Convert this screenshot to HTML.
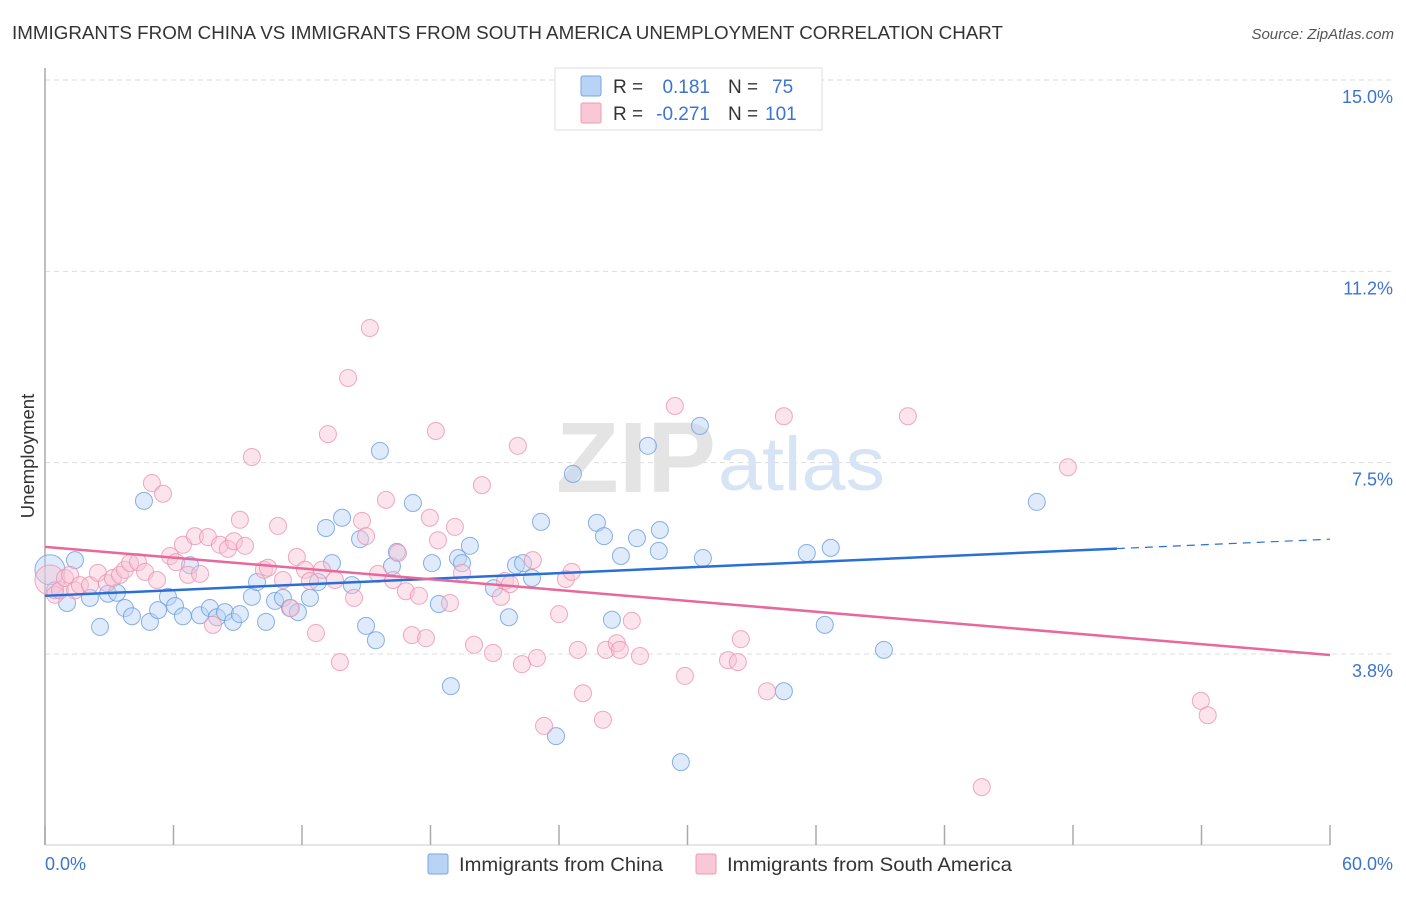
<!DOCTYPE html>
<html><head><meta charset="utf-8"><style>
body{margin:0;background:#fff;font-family:"Liberation Sans",sans-serif;}
svg text{font-family:"Liberation Sans",sans-serif;}
</style></head><body>
<svg id="chart" width="1406" height="892">
<text x="12" y="39" font-size="18" fill="#333" textLength="991" lengthAdjust="spacingAndGlyphs">IMMIGRANTS FROM CHINA VS IMMIGRANTS FROM SOUTH AMERICA UNEMPLOYMENT CORRELATION CHART</text>
<text x="1394" y="39" font-size="15" fill="#555" text-anchor="end" font-style="italic">Source: ZipAtlas.com</text>
<text x="34" y="456" font-size="18.5" fill="#333" text-anchor="middle" transform="rotate(-90 34 456)">Unemployment</text>
<g id="grid"></g>
<g id="axes"></g>
<text x="716" y="492" font-size="100" fill="#e4e4e4" text-anchor="end" font-family="Liberation Serif" font-weight="bold" textLength="160" lengthAdjust="spacingAndGlyphs">ZIP</text>
<text x="718" y="490" font-size="76" fill="#d6e4f6" textLength="167" lengthAdjust="spacingAndGlyphs">atlas</text>
<g id="pts"></g>
<g id="lines"></g>
<g>
<rect x="555" y="68" width="267" height="62" fill="#fff" stroke="#ddd"/>
<rect x="581" y="76" width="20" height="20" fill="#b8d3f5" stroke="#7aa7e0" rx="2"/>
<rect x="581" y="103" width="20" height="20" fill="#f9c8d7" stroke="#ec9ab4" rx="2"/>
<text x="613" y="93" font-size="19" fill="#333">R =</text>
<text x="710" y="93" font-size="19" fill="#3c74d0" text-anchor="end">0.181</text>
<text x="728" y="93" font-size="19" fill="#333">N =</text>
<text x="772" y="93" font-size="19" fill="#3c74d0">75</text>
<text x="613" y="120" font-size="19" fill="#333">R =</text>
<text x="710" y="120" font-size="19" fill="#3c74d0" text-anchor="end">-0.271</text>
<text x="728" y="120" font-size="19" fill="#333">N =</text>
<text x="765" y="120" font-size="19" fill="#3c74d0">101</text>
</g>
<g>
<rect x="428" y="854" width="20" height="20" fill="#b8d3f5" stroke="#7aa7e0" rx="2"/>
<text x="459" y="871" font-size="19.5" fill="#333" textLength="204" lengthAdjust="spacingAndGlyphs">Immigrants from China</text>
<rect x="696" y="854" width="20" height="20" fill="#f9c8d7" stroke="#ec9ab4" rx="2"/>
<text x="727" y="871" font-size="19.5" fill="#333" textLength="285" lengthAdjust="spacingAndGlyphs">Immigrants from South America</text>
</g>
</svg>
<script>
const blueX=[0.23,0.47,1.03,1.40,2.10,2.57,2.94,3.36,3.73,4.06,4.62,4.90,5.28,5.74,6.07,6.44,6.77,7.24,7.70,8.03,8.40,8.78,9.10,9.66,9.90,10.32,10.74,11.11,11.44,11.81,12.37,12.75,13.12,13.40,13.87,14.33,14.71,14.99,15.45,15.64,16.20,16.43,17.18,18.07,18.39,18.95,19.28,19.47,19.84,20.96,21.66,21.99,22.32,22.74,23.16,23.86,24.65,25.77,26.10,26.47,26.89,27.64,28.15,28.66,28.71,29.69,30.58,30.72,34.50,35.57,36.69,36.41,39.17,46.31];
const blueY=[5.40,5.00,4.75,5.59,4.85,4.28,4.93,4.95,4.65,4.49,6.75,4.38,4.61,4.87,4.69,4.49,5.49,4.51,4.65,4.47,4.57,4.38,4.53,4.87,5.16,4.38,4.79,4.85,4.65,4.57,4.85,5.16,6.22,5.53,6.42,5.10,6.00,4.30,4.02,7.73,5.47,5.75,6.71,5.53,4.73,3.12,5.63,5.53,5.87,5.04,4.47,5.49,5.53,5.24,6.34,2.14,7.28,6.32,6.06,4.42,5.67,6.02,7.83,5.77,6.18,1.63,8.22,5.63,3.02,5.73,5.83,4.32,3.83,6.73];
const pinkX=[0.23,0.47,0.70,0.93,1.17,1.40,1.63,2.10,2.47,2.89,3.17,3.50,3.73,3.97,4.34,4.67,4.99,5.23,5.51,5.84,6.12,6.44,6.68,7.00,7.24,7.61,7.84,8.17,8.54,8.82,9.34,9.66,9.10,10.22,10.41,10.88,11.11,11.48,11.76,12.14,12.37,12.65,12.93,13.21,13.54,13.77,14.15,14.43,14.80,14.99,15.17,15.55,15.92,16.25,16.48,16.85,17.13,17.46,17.79,17.97,18.25,18.35,18.91,19.14,19.47,20.03,20.40,20.92,21.29,21.48,21.71,22.08,22.27,22.78,22.97,23.30,24.00,24.32,24.60,24.88,25.12,26.05,26.19,26.70,26.84,27.40,27.78,29.41,29.88,31.89,32.35,32.49,33.71,34.50,40.29,43.74,47.76,53.97,54.29];
const pinkY=[5.20,4.91,5.00,5.24,5.30,5.00,5.10,5.10,5.34,5.14,5.24,5.30,5.40,5.53,5.55,5.36,7.10,5.20,6.89,5.67,5.55,5.89,5.30,6.06,5.32,6.04,4.32,5.89,5.81,5.96,5.87,7.61,6.38,5.40,5.44,6.26,5.20,4.65,5.65,5.40,5.18,4.16,5.40,8.06,5.20,3.59,9.16,4.85,6.36,6.06,10.14,5.32,6.77,5.20,5.73,4.98,4.12,4.89,4.06,6.42,8.12,5.98,4.75,6.24,5.34,3.93,7.06,3.77,4.87,5.18,5.12,7.83,3.55,5.59,3.67,2.34,4.53,5.22,5.36,3.83,2.98,2.46,3.83,3.96,3.83,4.40,3.71,8.61,3.32,3.63,3.59,4.04,3.02,8.41,8.41,1.14,7.41,2.83,2.55];
const yTicks=[15,11.25,7.5,3.75];
const yTickLabels=["15.0%","11.2%","7.5%","3.8%"];
const xTicks=[0,6,12,18,24,30,36,42,48,54,60];
const blueTrend=[4.89,6.00];
const pinkTrend=[5.85,3.73];
const blueSolidEnd=50.05;

const NS="http://www.w3.org/2000/svg";
const X=p=>45+p/60*1285;
const Y=v=>80+(15-v)*51.02;
function mk(tag,attrs,parent){const e=document.createElementNS(NS,tag);for(const k in attrs)e.setAttribute(k,attrs[k]);parent.appendChild(e);return e;}
const grid=document.getElementById('grid'),axes=document.getElementById('axes');
yTicks.forEach((v,i)=>{
  const l=mk('line',{x1:45,x2:1394,y1:Y(v),y2:Y(v),stroke:'#ddd','stroke-dasharray':'5,4'},grid);
  
  
  const t=mk('text',{x:1393,y:Y(v)+23,'font-size':18,fill:'#3c74d0','text-anchor':'end'},grid);
  t.textContent=yTickLabels[i];
  
  
});
const ax=mk('line',{x1:45,x2:45,y1:68,y2:845,stroke:'#aaa','stroke-width':1.5},axes);


const bx=mk('line',{x1:45,x2:1330,y1:845,y2:845,stroke:'#ccc'},axes);


xTicks.forEach(v=>{
  const t=mk('line',{x1:X(v),x2:X(v),y1:825,y2:845,stroke:'#aaa','stroke-width':1.5},axes);
  
  
});
const xl=mk('text',{x:45,y:870,'font-size':18,fill:'#3c74d0'},axes);xl.textContent='0.0%';


const xr=mk('text',{x:1393,y:870,'font-size':18,fill:'#3c74d0','text-anchor':'end'},axes);xr.textContent='60.0%';


const pts=document.getElementById('pts');
function draw(xs,ys,fill,stroke,name){
  xs.forEach((x,i)=>{
    const c=mk('circle',{cx:X(x),cy:Y(ys[i]),r:i===0?15:8.5,fill:fill,'fill-opacity':0.45,stroke:stroke,'stroke-opacity':0.8,'stroke-width':1},pts);
    
    
  });
}
draw(blueX,blueY,'#b8d3f5','#6a9ee0','china-point');
draw(pinkX,pinkY,'#f9c3d4','#ec93b0','south-america-point');
const lines=document.getElementById('lines');
const bt=v=>blueTrend[0]+(blueTrend[1]-blueTrend[0])*v/60;
const l1=mk('line',{x1:X(0),y1:Y(bt(0)),x2:X(blueSolidEnd),y2:Y(bt(blueSolidEnd)),stroke:'#2a6fd6','stroke-width':2.5},lines);


const l2=mk('line',{x1:X(blueSolidEnd),y1:Y(bt(blueSolidEnd)),x2:X(60),y2:Y(bt(60)),stroke:'#2a6fd6','stroke-width':1.2,'stroke-dasharray':'8,6'},lines);


const l3=mk('line',{x1:X(0),y1:Y(pinkTrend[0]),x2:X(60),y2:Y(pinkTrend[1]),stroke:'#e8689a','stroke-width':2.5},lines);


</script>
</body></html>
